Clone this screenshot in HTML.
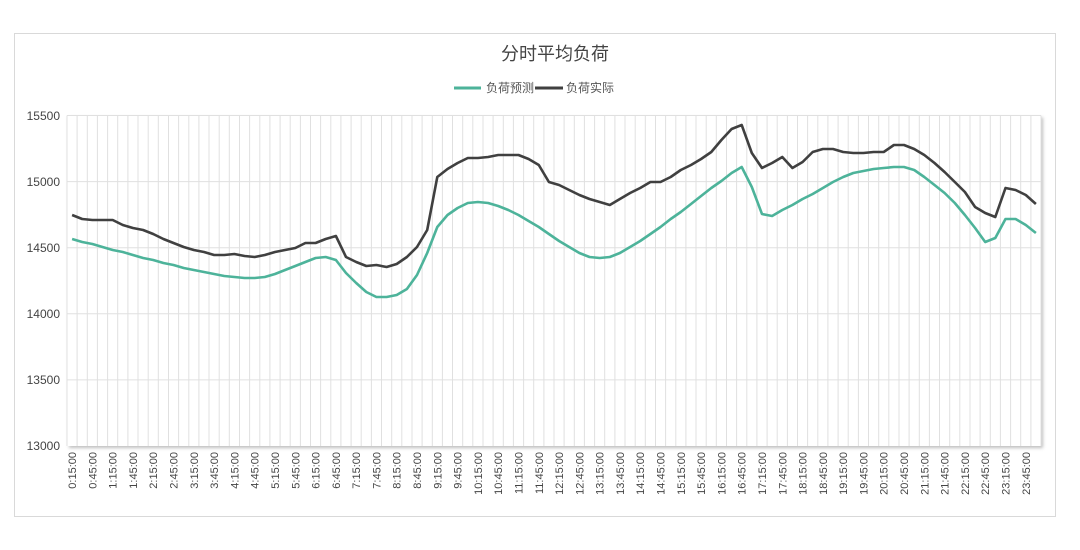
<!DOCTYPE html>
<html><head><meta charset="utf-8">
<style>
html,body{margin:0;padding:0;background:#fff;width:1080px;height:550px;overflow:hidden}
svg{display:block}
text{font-family:"Liberation Sans","Noto Sans CJK SC",sans-serif}
</style></head><body>
<svg id="s" width="1080" height="550" xmlns="http://www.w3.org/2000/svg">
<defs><filter id="sh" x="-5%" y="-5%" width="110%" height="115%"><feDropShadow dx="2" dy="2" stdDeviation="1.5" flood-color="#000" flood-opacity="0.25"/></filter></defs>
<rect x="14.5" y="33.5" width="1041" height="483" fill="#fff" stroke="#d9d9d9"/>
<rect x="67" y="115.5" width="974" height="330.5" fill="#fff" filter="url(#sh)"/>
<g id="grid" stroke="#e0e0e0" stroke-width="1"></g>
<text x="555" y="60" text-anchor="middle" font-size="18" fill="#444">分时平均负荷</text>
<line x1="454" y1="88" x2="481" y2="88" stroke="#4db39a" stroke-width="3"/>
<text x="486" y="92" font-size="12" fill="#555">负荷预测</text>
<line x1="535" y1="88" x2="563" y2="88" stroke="#404040" stroke-width="3"/>
<text x="566" y="92" font-size="12" fill="#555">负荷实际</text>
<g font-size="12" fill="#444" text-anchor="end">
<text x="60" y="120">15500</text>
<text x="60" y="186">15000</text>
<text x="60" y="252">14500</text>
<text x="60" y="318">14000</text>
<text x="60" y="384">13500</text>
<text x="60" y="450">13000</text>
</g>
<g id="xl" font-size="11" fill="#444" text-anchor="end">
<text>0:15:00</text><text>0:45:00</text><text>1:15:00</text><text>1:45:00</text><text>2:15:00</text><text>2:45:00</text><text>3:15:00</text><text>3:45:00</text><text>4:15:00</text><text>4:45:00</text><text>5:15:00</text><text>5:45:00</text><text>6:15:00</text><text>6:45:00</text><text>7:15:00</text><text>7:45:00</text><text>8:15:00</text><text>8:45:00</text><text>9:15:00</text><text>9:45:00</text><text>10:15:00</text><text>10:45:00</text><text>11:15:00</text><text>11:45:00</text><text>12:15:00</text><text>12:45:00</text><text>13:15:00</text><text>13:45:00</text><text>14:15:00</text><text>14:45:00</text><text>15:15:00</text><text>15:45:00</text><text>16:15:00</text><text>16:45:00</text><text>17:15:00</text><text>17:45:00</text><text>18:15:00</text><text>18:45:00</text><text>19:15:00</text><text>19:45:00</text><text>20:15:00</text><text>20:45:00</text><text>21:15:00</text><text>21:45:00</text><text>22:15:00</text><text>22:45:00</text><text>23:15:00</text><text>23:45:00</text>
</g>
<polyline id="g" fill="none" stroke="#4db39a" stroke-width="2.6" stroke-linejoin="round"/>
<polyline id="k" fill="none" stroke="#404040" stroke-width="2.6" stroke-linejoin="round"/>
</svg>
<script>
var G=[239,242,244,247,250,252,255,258,260,263,265,268,270,272,274,276,277,278,278,277,
274,270,266,262,258,257,260,
273,283,292,297,297,
295,289,275,253,227,215,208,203,202,203,206,210,215,221,227,234,241,247,253,257,258,257,253,247,241,234,227,219,212,204,196,188,
181,173,167,187,214,216,210,205,199,194,188,182,177,173,171,169,168,167,167,170,177,185,193,203,215,228,242,238,219,219,225,233];
var K=[215,219,220,220,220,225,228,230,234,239,243,247,250,252,255,255,254,256,257,255,252,250,248,243,243,239,236,
257,262,266,265,267,
264,257,247,230,177,169,163,158,158,157,155,155,155,159,165,182,185,190,195,199,202,205,199,193,188,182,182,177,170,165,159,152,
140,129,125,153,168,163,157,168,162,152,149,149,152,153,153,152,152,145,145,149,155,163,172,182,192,207,213,217,188,190,195,204];
function X(i){return 67+(i+0.5)*974/96;}
function pts(a){return a.map(function(y,i){return X(i).toFixed(1)+','+y;}).join(' ');}
document.getElementById('g').setAttribute('points',pts(G));
document.getElementById('k').setAttribute('points',pts(K));
var gr=document.getElementById('grid'),ns='http://www.w3.org/2000/svg',h='';
for(var k=0;k<=96;k++){var x=(67+k*974/96).toFixed(1);h+='<line x1="'+x+'" y1="115.5" x2="'+x+'" y2="446"/>';}
[115.5,181.6,247.7,313.8,379.9].forEach(function(y){h+='<line x1="67" y1="'+y+'" x2="1041" y2="'+y+'"/>';});
gr.innerHTML=h;
var t=document.querySelectorAll('#xl text');
for(var j=0;j<t.length;j++){var x=X(2*j)+4;t[j].setAttribute('transform','translate('+x.toFixed(1)+',452) rotate(-90)');}
</script>
</body></html>
